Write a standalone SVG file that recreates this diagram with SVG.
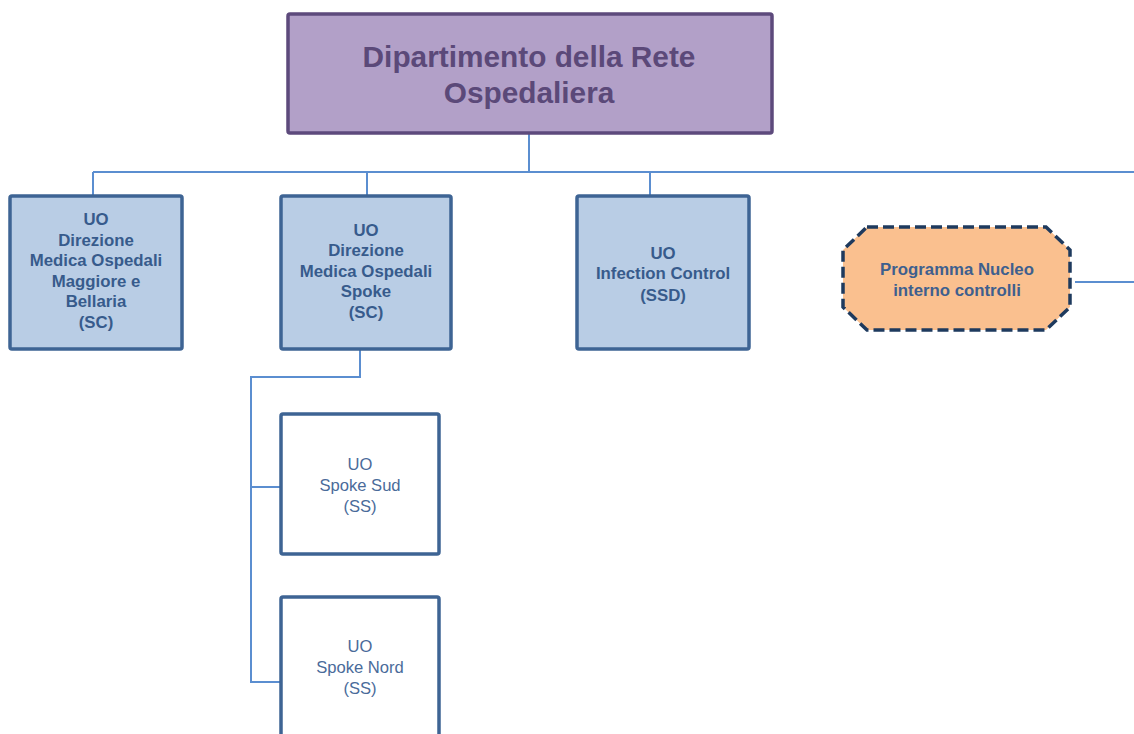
<svg xmlns="http://www.w3.org/2000/svg" width="1134" height="734" viewBox="0 0 1134 734">
<style>
.unit{fill:#b9cde5;stroke:#3e6494;stroke-width:3.5}
.sub{fill:#ffffff;stroke:#3e6494;stroke-width:3.5}
.t{font-family:"Liberation Sans",Arial,sans-serif;text-anchor:middle}
.tb{font-size:16.8px;font-weight:bold;fill:#375b8c}
.tr{font-size:16.6px;fill:#4a6b9a}
.conn{fill:none;stroke:#5b8ed0;stroke-width:2}
</style>
<rect width="1134" height="734" fill="#ffffff"/>
<g id="connectors">
<path class="conn" d="M529,133 V172 M93,172 H1134 M93,172 V196 M367,172 V196 M650,172 V196"/>
<path class="conn" d="M1075,282 H1134"/>
<path class="conn" d="M360,349 V377 H251 V682 H281 M251,487 H281"/>
</g>
<g id="dept">
<rect x="288" y="14" width="484" height="119" fill="#b2a0c8" stroke="#5d4a7c" stroke-width="3.5" rx="2"/>
<text class="t" x="529" y="67" font-size="29.8" font-weight="bold" fill="#5b4979">Dipartimento della Rete</text>
<text class="t" x="529" y="103" font-size="29.8" font-weight="bold" fill="#5b4979">Ospedaliera</text>
</g>
<g id="uo-maggiore">
<rect class="unit" x="10" y="196" width="172" height="153" rx="2"/>
<text class="t tb"><tspan x="96" y="225">UO</tspan><tspan x="96" y="246">Direzione</tspan><tspan x="96" y="266">Medica Ospedali</tspan><tspan x="96" y="287">Maggiore e</tspan><tspan x="96" y="307">Bellaria</tspan><tspan x="96" y="328">(SC)</tspan></text>
</g>
<g id="uo-spoke">
<rect class="unit" x="281" y="196" width="170" height="153" rx="2"/>
<text class="t tb"><tspan x="366" y="236">UO</tspan><tspan x="366" y="256">Direzione</tspan><tspan x="366" y="277">Medica Ospedali</tspan><tspan x="366" y="297">Spoke</tspan><tspan x="366" y="318">(SC)</tspan></text>
</g>
<g id="uo-infection">
<rect class="unit" x="577" y="196" width="172" height="153" rx="2"/>
<text class="t tb"><tspan x="663" y="259">UO</tspan><tspan x="663" y="279">Infection Control</tspan><tspan x="663" y="301">(SSD)</tspan></text>
</g>
<g id="programma">
<polygon points="867,227 1046,227 1070,250 1070,307 1046,330 867,330 843,307 843,250" fill="#fac08f" stroke="#1e3a5e" stroke-width="3.5" stroke-dasharray="11,5"/>
<text class="t" font-size="16.8" font-weight="bold" fill="#3e5f8e"><tspan x="957" y="275">Programma Nucleo</tspan><tspan x="957" y="296">interno controlli</tspan></text>
</g>
<g id="spoke-sud">
<rect class="sub" x="281" y="414" width="158" height="140" rx="2"/>
<text class="t tr"><tspan x="360" y="470">UO</tspan><tspan x="360" y="491">Spoke Sud</tspan><tspan x="360" y="512">(SS)</tspan></text>
</g>
<g id="spoke-nord">
<rect class="sub" x="281" y="597" width="158" height="150" rx="2"/>
<text class="t tr"><tspan x="360" y="652">UO</tspan><tspan x="360" y="673">Spoke Nord</tspan><tspan x="360" y="694">(SS)</tspan></text>
</g>
</svg>
